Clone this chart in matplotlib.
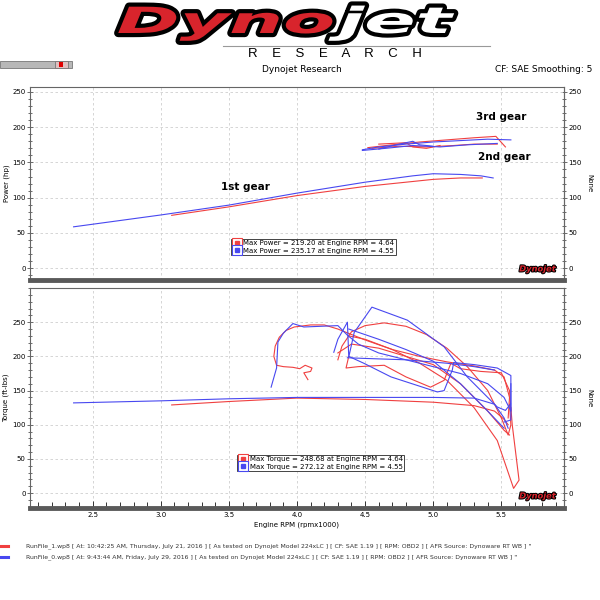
import matplotlib
matplotlib.use("Agg")
import matplotlib.pyplot as plt
import matplotlib.patheffects as pe
from matplotlib.transforms import Affine2D
from matplotlib.lines import Line2D
from matplotlib.patches import Rectangle
from matplotlib.legend_handler import HandlerTuple
from matplotlib.ticker import MultipleLocator

RED = '#f04040'
BLUE = '#4848f0'

# ---- power (hp) traces, RunFile_1 (red) ----
p_red_1st_rpm = [3.08, 3.5, 4.0, 4.5, 5.0, 5.2, 5.36]
p_red_1st_hp = [75, 87, 103, 116, 126, 128, 128]
p_red_3rd_rpm = [4.52, 4.7, 4.9, 5.1, 5.3, 5.46, 5.53]
p_red_3rd_hp = [171, 175, 179, 182, 185, 187, 172]
p_red_2nd_rpm = [4.55, 4.75, 4.95, 5.15, 5.3, 5.47]
p_red_2nd_hp = [170, 173, 172, 174, 176, 176]
p_red_zz_rpm = [4.6, 4.8, 4.85, 4.95, 5.05]
p_red_zz_hp = [176, 178, 172, 170, 174]

# ---- power (hp) traces, RunFile_0 (blue) ----
p_blue_1st_rpm = [2.36, 3.0, 3.5, 4.0, 4.5, 4.85, 5.0, 5.2, 5.35, 5.44]
p_blue_1st_hp = [58.7, 75.5, 89.5, 106.5, 122, 131, 134, 133, 131, 128]
p_blue_3rd_rpm = [4.48, 4.6, 4.8, 5.0, 5.2, 5.4, 5.57]
p_blue_3rd_hp = [168, 172, 176, 179, 181, 183, 182]
p_blue_2nd_rpm = [4.48, 4.65, 4.85, 5.05, 5.25, 5.47]
p_blue_2nd_hp = [167, 170, 174, 172, 175, 177]
p_blue_zz_rpm = [4.6, 4.75, 4.85, 4.9, 5.0]
p_blue_zz_hp = [169, 176, 180, 175, 173]

# ---- torque (ft-lbs) traces, RunFile_1 (red) ----
t_red_1_rpm = [3.08, 3.5, 4.0, 4.5, 5.0, 5.3, 5.45, 5.52, 5.55]
t_red_1 = [129, 134, 139, 137, 133, 128, 120, 108, 100]
t_red_2_rpm = [4.08, 4.05, 4.1, 4.11, 4.06, 4.02, 3.97, 3.9, 3.85, 3.83, 3.84, 3.87,
               3.92, 3.98, 4.1, 4.2, 4.3, 4.5, 4.7, 4.9, 5.1, 5.3, 5.45, 5.52, 5.56, 5.55]
t_red_2 = [166, 176, 178, 183, 187, 182, 184, 185, 187, 200, 215, 228,
           238, 243, 246, 246, 240, 224, 210, 200, 192, 186, 180, 170, 140, 110]
t_red_3_rpm = [4.3, 4.33, 4.4, 4.5, 4.64, 4.8, 4.95, 5.1, 5.25, 5.4, 5.5, 5.55, 5.57, 5.56]
t_red_3 = [195, 215, 236, 245, 249, 244, 232, 212, 185, 150, 110, 85, 100, 130]
t_red_4_rpm = [4.38, 4.5, 4.7, 4.9, 5.1, 5.3, 5.47, 5.59, 5.63, 5.58, 5.57]
t_red_4 = [230, 225, 210, 190, 165, 125, 77, 7, 19, 100, 125]
t_red_5_rpm = [4.38, 4.36, 4.45, 4.64, 4.8, 4.98, 5.08, 5.13, 5.2, 5.35, 5.5, 5.56, 5.57]
t_red_5 = [200, 183, 185, 187, 170, 155, 165, 190, 182, 178, 176, 150, 120]
t_red_6_rpm = [4.3, 4.4, 4.6, 4.8, 5.0, 5.2, 5.4, 5.52, 5.56]
t_red_6 = [205, 218, 212, 200, 188, 160, 120, 92, 85]

# ---- torque (ft-lbs) traces, RunFile_0 (blue) ----
t_blue_1_rpm = [2.36, 3.0, 3.5, 4.0, 4.5, 5.0, 5.3, 5.45, 5.52, 5.55]
t_blue_1 = [132, 135, 138, 140, 140, 140, 139, 130, 110, 95]
t_blue_2_rpm = [3.81, 3.85, 3.86, 3.9, 3.97, 4.05, 4.3, 4.37, 4.45, 4.6, 4.8, 5.0,
                5.2, 5.4, 5.52, 5.57, 5.57]
t_blue_2 = [155, 183, 221, 234, 248, 243, 245, 231, 218, 205, 195, 185,
            175, 160, 140, 120, 130]
t_blue_3_rpm = [4.27, 4.3, 4.37, 4.38, 4.42, 4.55, 4.81, 5.08, 5.25, 5.37, 5.47, 5.53, 5.57, 5.57]
t_blue_3 = [206, 225, 250, 199, 235, 272, 253, 214, 170, 146, 126, 121, 131, 160]
t_blue_4_rpm = [4.38, 4.49, 4.69, 5.03, 5.08, 5.14, 5.15, 5.3, 5.47, 5.57, 5.57, 5.52]
t_blue_4 = [200, 190, 170, 148, 150, 180, 191, 188, 183, 172, 107, 104]
t_blue_5_rpm = [4.38, 4.6, 4.8, 5.0, 5.2, 5.4, 5.52]
t_blue_5 = [240, 225, 210, 193, 160, 120, 95]
t_blue_6_rpm = [4.37, 4.5, 4.8, 5.1, 5.3, 5.45]
t_blue_6 = [198, 197, 195, 190, 185, 180]

power_legend = ['Max Power = 219.20 at Engine RPM = 4.64',
                'Max Power = 235.17 at Engine RPM = 4.55']
torque_legend = ['Max Torque = 248.68 at Engine RPM = 4.64',
                 'Max Torque = 272.12 at Engine RPM = 4.55']
run_info = [
    'RunFile_1.wp8 [ At: 10:42:25 AM, Thursday, July 21, 2016 ] [ As tested on Dynojet Model 224xLC ] '
    '[ CF: SAE 1.19 ] [ RPM: OBD2 ] [ AFR Source: Dynoware RT WB ] "',
    'RunFile_0.wp8 [ At: 9:43:44 AM, Friday, July 29, 2016 ] [ As tested on Dynojet Model 224xLC ] '
    '[ CF: SAE 1.19 ] [ RPM: OBD2 ] [ AFR Source: Dynoware RT WB ] "',
]


class Stretch(pe.AbstractPathEffect):
    """widen text horizontally around cx (display px), optional outline"""
    def __init__(self, sx, cx, edge=None, lw=0):
        super().__init__()
        self.sx, self.cx, self.edge, self.lw = sx, cx, edge, lw

    def draw_path(self, renderer, gc, tpath, affine, rgbFace=None):
        aff = affine + Affine2D().translate(-self.cx, 0).scale(self.sx, 1).translate(self.cx, 0)
        if self.edge is not None:
            gc0 = renderer.new_gc()
            gc0.copy_properties(gc)
            gc0.set_foreground(self.edge)
            gc0.set_linewidth(self.lw)
            gc0.set_joinstyle('round')
            renderer.draw_path(gc0, tpath, aff, None)
            gc0.restore()
        renderer.draw_path(gc, tpath, aff, rgbFace)


fig = plt.figure(figsize=(6, 6), dpi=100)
W = 600

# header
for word, cx, col in [('Dyno', 226, '#d8242c'), ('jet', 395, 'white')]:
    fig.text(cx / W, 1 - 23 / W, word, fontsize=26, fontweight='bold', style='italic',
             color=col, ha='center', va='center', family='DejaVu Sans',
             path_effects=[Stretch(2.1, cx, edge='black', lw=6)])
fig.add_artist(Line2D([223 / W, 490 / W], [1 - 46 / W, 1 - 46 / W], color='#999999', lw=0.8))
fig.text(335 / W, 1 - 54 / W, 'R    E    S    E    A    R    C    H', fontsize=9.5,
         ha='center', va='center', family='Liberation Sans')
fig.text(302 / W, 1 - 70 / W, 'Dynojet Research', fontsize=6.5, ha='center', va='center')
fig.text(592 / W, 1 - 70 / W, 'CF: SAE Smoothing: 5', fontsize=6.5, ha='right', va='center')
fig.add_artist(Rectangle((0, 1 - 68 / W), 72 / W, 7 / W, transform=fig.transFigure,
                         facecolor='#b8b8b8', edgecolor='#777777', lw=0.6))
fig.add_artist(Rectangle((55 / W, 1 - 68 / W), 13 / W, 7 / W, transform=fig.transFigure,
                         facecolor='#e0c0c0', edgecolor='#777777', lw=0.6))
fig.add_artist(Rectangle((59 / W, 1 - 66.5 / W), 4 / W, 4 / W, transform=fig.transFigure,
                         facecolor='#e00000', edgecolor='none'))

ax1 = fig.add_axes([0.05, 0.533, 0.89, 0.322])
ax2 = fig.add_axes([0.05, 0.153, 0.89, 0.367])

for rx, hy in [(p_red_1st_rpm, p_red_1st_hp), (p_red_3rd_rpm, p_red_3rd_hp),
               (p_red_2nd_rpm, p_red_2nd_hp), (p_red_zz_rpm, p_red_zz_hp)]:
    ax1.plot(rx, hy, color=RED, lw=0.8)
for rx, hy in [(p_blue_1st_rpm, p_blue_1st_hp), (p_blue_3rd_rpm, p_blue_3rd_hp),
               (p_blue_2nd_rpm, p_blue_2nd_hp), (p_blue_zz_rpm, p_blue_zz_hp)]:
    ax1.plot(rx, hy, color=BLUE, lw=0.8)

for rx, ty in [(t_red_1_rpm, t_red_1), (t_red_2_rpm, t_red_2), (t_red_3_rpm, t_red_3),
               (t_red_4_rpm, t_red_4), (t_red_5_rpm, t_red_5), (t_red_6_rpm, t_red_6)]:
    ax2.plot(rx, ty, color=RED, lw=0.8)
for rx, ty in [(t_blue_1_rpm, t_blue_1), (t_blue_2_rpm, t_blue_2), (t_blue_3_rpm, t_blue_3),
               (t_blue_4_rpm, t_blue_4), (t_blue_5_rpm, t_blue_5), (t_blue_6_rpm, t_blue_6)]:
    ax2.plot(rx, ty, color=BLUE, lw=0.8)

ax1.text(3.62, 115, '1st gear', fontsize=7.5, fontweight='bold', ha='center', va='center')
ax1.text(5.52, 158, '2nd gear', fontsize=7.5, fontweight='bold', ha='center', va='center')
ax1.text(5.50, 214, '3rd gear', fontsize=7.5, fontweight='bold', ha='center', va='center')

ax1.set_ylim(-17, 257)
ax2.set_ylim(-22, 300)
for ax, ylab in [(ax1, 'Power (hp)'), (ax2, 'Torque (ft-lbs)')]:
    ax.set_xlim(2.04, 5.96)
    ax.set_yticks(range(0, 251, 50))
    ax.yaxis.set_minor_locator(MultipleLocator(10))
    ax.xaxis.set_major_locator(MultipleLocator(0.5))
    ax.xaxis.set_minor_locator(MultipleLocator(0.1))
    ax.grid(True, which='major', ls=(0, (3, 3)), color='#cfcfcf', lw=0.6)
    ax.tick_params(axis='y', which='both', direction='inout', labelsize=5, width=0.6,
                   color='#555555', pad=1)
    ax.tick_params(axis='y', which='major', length=4)
    ax.tick_params(axis='y', which='minor', length=2.5)
    ax.set_ylabel(ylab, fontsize=5, labelpad=2)
    for s in ['left', 'top', 'right']:
        ax.spines[s].set_color('#666666')
        ax.spines[s].set_linewidth(0.8)
    ax.spines['bottom'].set_color('#5a5a5a')
    ax.spines['bottom'].set_linewidth(3.5)
    sec = ax.secondary_yaxis('right')
    sec.set_yticks(range(0, 251, 50))
    sec.yaxis.set_minor_locator(MultipleLocator(10))
    sec.tick_params(which='both', direction='inout', labelsize=5, width=0.6,
                    color='#555555', pad=1)
    sec.tick_params(which='major', length=4)
    sec.tick_params(which='minor', length=2.5)
    sec.spines['right'].set_color('#666666')
    sec.set_ylabel('None', fontsize=5, rotation=270, labelpad=8)
    ax.text(0.985, 0.035, 'Dynojet', transform=ax.transAxes, fontsize=6, fontweight='bold',
            style='italic', color='#d8242c', ha='right', va='bottom',
            path_effects=[pe.withStroke(linewidth=1.5, foreground='black')])

ax1.tick_params(axis='x', which='both', length=0, labelbottom=False)
ax2.tick_params(axis='x', which='both', direction='in', labelsize=5, width=0.7,
                color='#333333', pad=3)
ax2.tick_params(axis='x', which='major', length=5)
ax2.tick_params(axis='x', which='minor', length=4)
ax2.set_xlabel('Engine RPM (rpmx1000)', fontsize=5, labelpad=2)


def legend_handles(col):
    return (Line2D([], [], ls='none', marker='s', markersize=7, markerfacecolor='white',
                   markeredgecolor=col, markeredgewidth=0.8),
            Line2D([], [], ls='none', marker='s', markersize=2.8, color=col))


for ax, labels, anchor in [(ax1, power_legend, (0.376, 0.13)), (ax2, torque_legend, (0.388, 0.168))]:
    leg = ax.legend([legend_handles(RED), legend_handles(BLUE)], labels,
                    handler_map={tuple: HandlerTuple(ndivide=1, pad=0)},
                    loc='lower left', bbox_to_anchor=anchor, fontsize=5, fancybox=False,
                    framealpha=1, edgecolor='#444444', borderpad=0.2, labelspacing=0.2,
                    handlelength=1.3, handletextpad=0.3, borderaxespad=0)
    leg.get_frame().set_linewidth(0.7)

# run file footer
for i, (txt, col) in enumerate(zip(run_info, [RED, BLUE])):
    y = 1 - (546 + 11 * i) / W
    fig.add_artist(Line2D([0, 8 / W], [y, y], color=col, lw=2.2))
    fig.text(26 / W, y, txt, fontsize=4.4, ha='left', va='center', color='#333333')

fig.savefig('out.png', dpi=100)
